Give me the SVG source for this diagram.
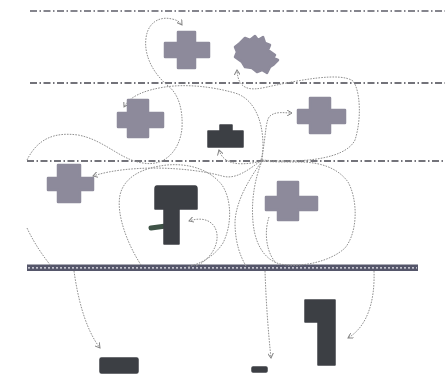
<svg xmlns="http://www.w3.org/2000/svg" width="445" height="380" viewBox="0 0 445 380">
<defs>
<marker id="arr" viewBox="0 0 6 6" refX="5" refY="3" markerWidth="6" markerHeight="6" orient="auto" markerUnits="userSpaceOnUse">
<path d="M0,0 L5,3 L0,6" fill="none" stroke="#858585" stroke-width="1"/>
</marker>
<style>
.zone{stroke:#45454f;stroke-width:1.3;stroke-dasharray:7 2.5 1.5 2.5;fill:none}
.flow{fill:none;stroke:#909090;stroke-width:1;stroke-dasharray:1.6 1.2}
.arrow{marker-end:url(#arr)}
.light{fill:#8d8a9b;stroke:#8d8a9b;stroke-width:2.5;stroke-linejoin:round}
.dark{fill:#3c3f44;stroke:#3c3f44;stroke-width:1.5;stroke-linejoin:round}
</style>
</defs>
<rect width="445" height="380" fill="#ffffff"/>
<g id="zones">
<line class="zone" x1="30" y1="11" x2="445" y2="11" style="stroke:#5e5e68"/>
<line class="zone" x1="30" y1="83" x2="445" y2="83"/>
<line class="zone" x1="27" y1="161" x2="445" y2="161"/>
</g>
<g id="road">
<rect x="27" y="264.5" width="391" height="6.5" fill="#55566a"/>
<line x1="28" y1="267.8" x2="417" y2="267.8" stroke="#e8e8f0" stroke-width="1.2" stroke-dasharray="2 2"/>
</g>
<g id="connectors">
<path class="flow arrow" d="M27,160 C38,138 55,132 78,135 C105,140 120,160 143,163 C165,167 180,150 182,128 C183,108 178,93 167,85 C150,70 144,52 146,38 C148,22 160,16 172,19 C177,20 180,22 182,25"/>
<path class="flow arrow" d="M262,160 C266,130 258,100 235,93 C210,86 185,84 165,87 C145,90 130,96 124,107"/>
<path class="flow arrow" d="M262,160 C300,163 345,160 355,140 C362,118 360,90 353,81 C340,72 300,80 267,87 C250,91 238,90 237,70"/>
<path class="flow arrow" d="M261,160 C266,140 265,120 270,116 C276,111 284,113 292,113"/>
<path class="flow arrow" d="M262,161 C245,165 224,167 219,150"/>
<path class="flow arrow" d="M262,160 C248,170 236,180 222,176 C190,167 130,164 93,176"/>
<path class="flow" d="M141,265 C128,245 116,215 120,195 C124,178 140,168 167,165 C190,163 210,170 222,185 C232,200 232,225 223,243 C214,257 200,264 187,267"/>
<path class="flow arrow" d="M196,266 C214,258 222,238 214,226 C208,218 198,218 189,221"/>
<path class="flow" d="M262,161 C250,178 236,200 235,222 C235,242 240,256 246,266"/>
<path class="flow" d="M262,161 C255,178 251,200 253,222 C255,245 265,260 280,264 C300,268 330,262 345,248 C358,232 358,200 348,182 C338,168 320,162 300,162 C285,162 270,162 262,161"/>
<path class="flow" d="M269,217 C264,232 266,252 276,263"/>
<path class="flow" d="M27,228 C35,245 44,257 51,266"/>
<path class="flow arrow" d="M74,271 C78,300 86,330 100,348"/>
<path class="flow arrow" d="M265,271 C266,300 268,330 271,358"/>
<path class="flow arrow" d="M374,271 C375,300 368,326 348,338"/>
</g>
<g id="cross-top">
<path class="light" d="M178,32 H195 V43 H209 V57 H195 V68 H178 V57 H165 V43 H178 Z"/>
</g>
<g id="star">
<path class="light" d="M240,43 L245,38 L250,40 L255,36 L258,40 L263,37 L265,43 L270,45 L268,50 L275,55 L273,58 L278,60 L273,65 L270,67 L267,73 L262,70 L257,72 L252,68 L245,67 L242,62 L235,57 L237,52 L235,47 Z"/>
</g>
<g id="cross-left-mid">
<path class="light" d="M128,100 H148 V113 H163 V127 H148 V137 H128 V127 H118 V113 H128 Z"/>
</g>
<g id="cross-right-mid">
<path class="light" d="M310,98 H330 V110 H345 V123 H330 V133 H310 V123 H298 V110 H310 Z"/>
</g>
<g id="dark-small">
<path class="dark" d="M220,125 H232 V131 H243 V147 H208 V131 H220 Z"/>
</g>
<g id="cross-left-low">
<path class="light" d="M58,165 H80 V178 H93 V190 H80 V202 H58 V190 H48 V178 H58 Z"/>
</g>
<g id="hammer">
<line x1="151" y1="228" x2="166" y2="226" stroke="#3e5246" stroke-width="5" stroke-linecap="round"/>
<path class="dark" d="M157,186 H195 Q197,186 197,189 V209 H179 V244 H164 V209 H155 V189 Q155,186 157,186 Z"/>
</g>
<g id="cross-right-low">
<path class="light" d="M278,182 H298 V197 H317 V210 H298 V220 H278 V210 H266 V197 H278 Z"/>
</g>
<g id="block-a">
<rect class="dark" x="100" y="358" width="38" height="15" rx="1.5"/>
</g>
<g id="block-b">
<rect class="dark" x="252" y="367" width="15" height="5" rx="1"/>
</g>
<g id="block-l">
<path class="dark" d="M305,300 H335 V365 H318 V322 H305 Z"/>
</g>
</svg>
